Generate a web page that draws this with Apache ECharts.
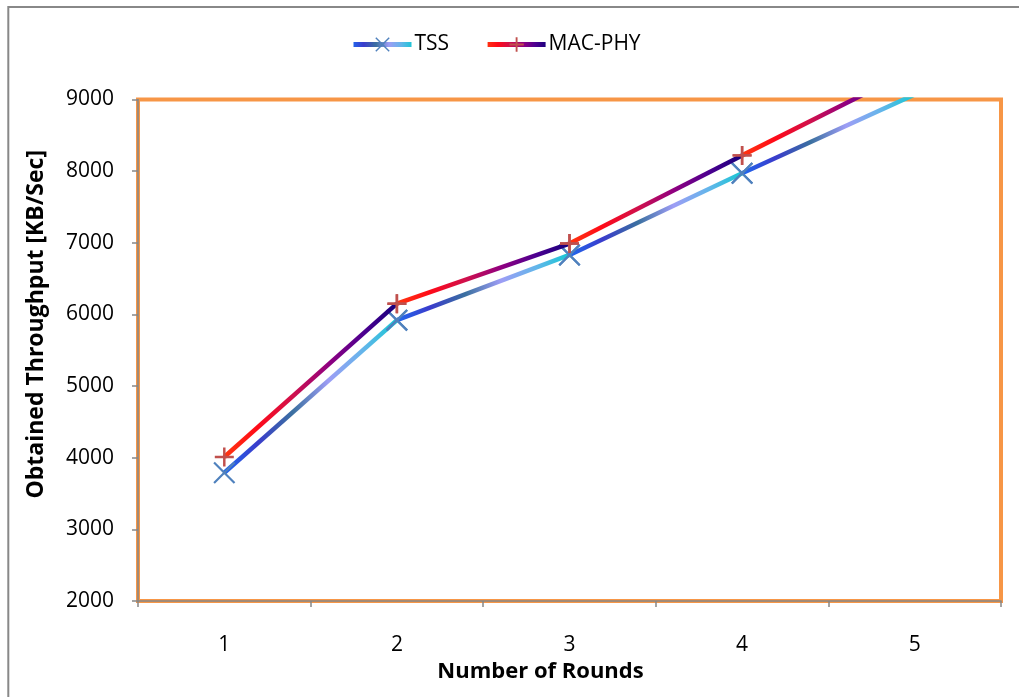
<!DOCTYPE html>
<html>
<head>
<meta charset="utf-8">
<script src="https://cdn.jsdelivr.net/npm/echarts@6/dist/echarts.min.js"></script>
<style>html,body{margin:0;padding:0;background:#fff}#c{width:1019px;height:697px}</style>
</head>
<body>
<div id="c"></div>
<script>
const categories = ['1', '2', '3', '4', '5'];
const tssValues = [3790, 5920, 6830, 7970, 9070];
const macValues = [4010, 6150, 6990, 8220, 9430];
const yTicks = { min: 2000, max: 9000, interval: 1000 };

const FONT = '"Open Sans", "Noto Sans", sans-serif';
const xPath = 'path://M-10,-8.6L-8.6,-10L10,8.6L8.6,10Z M8.6,-10L10,-8.6L-8.6,10L-10,8.6Z';
const plusPath = 'path://M-1.3,-10L1.3,-10L1.3,-1.3L10,-1.3L10,1.3L1.3,1.3L1.3,10L-1.3,10L-1.3,1.3L-10,1.3L-10,-1.3L-1.3,-1.3Z';

function grad(stops) {
  return new echarts.graphic.LinearGradient(0, 0, 1, 0, stops.map((c, i) => ({ offset: i / (stops.length - 1), color: c })));
}
const tssGrad = ['#1e6cf0', '#3a3ccc', '#3b70a0', '#9d9df5', '#62b6ea', '#10c8d2'];
const macGrad = ['#ff3a10', '#ff0a18', '#d0104c', '#900080', '#4c0090', '#12007a'];

function segments(name, values, stops, symbol, symSize, symColor, z) {
  const out = [];
  for (let i = 0; i < values.length - 1; i++) {
    out.push({
      name: name,
      type: 'line',
      z: z,
      clip: true,
      data: values.map((v, j) => (j === i || j === i + 1) ? v : null),
      connectNulls: false,
      symbol: symbol,
      symbolSize: symSize,
      showSymbol: true,
      itemStyle: { color: symColor },
      lineStyle: { width: 4.5, color: grad(stops) },
      emphasis: { disabled: true },
      animation: false
    });
  }
  return out;
}

const chart = echarts.init(document.getElementById('c'));
chart.setOption({
  animation: false,
  backgroundColor: '#ffffff',
  graphic: [{
    type: 'rect',
    shape: { x: 8.3, y: 7, width: 1200, height: 900 },
    style: { fill: 'none', stroke: '#888888', lineWidth: 2 },
    silent: true, z: -1
  }],
  legend: {
    top: 29,
    left: 346,
    itemWidth: 58,
    itemHeight: 18,
    itemGap: 36,
    data: ['TSS', 'MAC-PHY'],
    lineStyle: { width: 5 },
    textStyle: { fontFamily: FONT, fontSize: 21, color: '#000', padding: [0, 0, 0, -2] }
  },
  grid: {
    left: 138, right: 18, top: 99.5, bottom: 96,
    show: true, borderColor: '#f79646', borderWidth: 4, backgroundColor: 'transparent'
  },
  xAxis: {
    type: 'category',
    data: categories,
    boundaryGap: true,
    name: 'Number of Rounds',
    nameLocation: 'middle',
    nameGap: 48,
    nameTextStyle: { fontFamily: FONT, fontSize: 22, fontWeight: 'bold', color: '#000', padding: [0, 58, 0, 0] },
    axisLine: { show: true, lineStyle: { color: '#868686', width: 1.5 } },
    axisTick: { show: true, length: 6, alignWithLabel: false, lineStyle: { color: '#868686', width: 1.5 } },
    axisLabel: { fontFamily: FONT, fontSize: 21, color: '#000', margin: 34 },
    splitLine: { show: false }
  },
  yAxis: {
    type: 'value',
    min: yTicks.min, max: yTicks.max, interval: yTicks.interval,
    name: 'Obtained Throughput [KB/Sec]',
    nameLocation: 'middle',
    nameGap: 90,
    nameTextStyle: { fontFamily: FONT, fontSize: 23, fontWeight: 'bold', color: '#000', padding: [0, 0, 0, 52] },
    axisLine: { show: true, lineStyle: { color: '#868686', width: 1.5 } },
    axisTick: { show: true, length: 6, lineStyle: { color: '#868686', width: 1.5 } },
    axisLabel: { fontFamily: FONT, fontSize: 21, color: '#000', margin: 24, formatter: (v) => String(v) },
    splitLine: { show: false }
  },
  series: [].concat(
    segments('TSS', tssValues, tssGrad, xPath, 22, '#4f81bd', 3),
    segments('MAC-PHY', macValues, macGrad, plusPath, 19, '#c0504d', 4)
  )
});
</script>
</body>
</html>
